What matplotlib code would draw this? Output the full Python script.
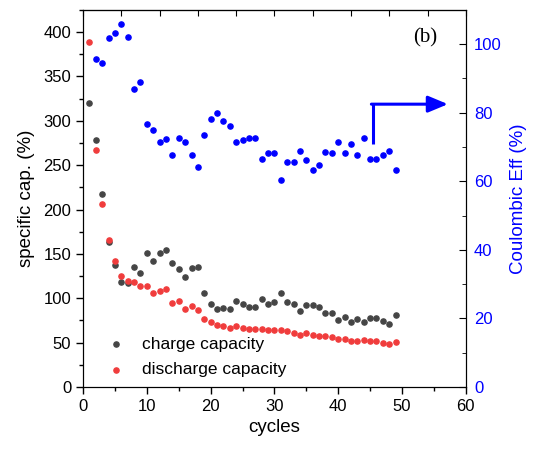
import numpy as np
import matplotlib.pyplot as plt
from matplotlib.ticker import MultipleLocator

plt.rcParams['font.family'] = ['Liberation Sans', 'DejaVu Sans']

# charge / discharge capacity, cycles 1..49
cycles = np.arange(1, 50)
charge = [320, 278, 217, 163, 137, 118, 117, 135, 128, 151,
          142, 151, 154, 140, 133, 124, 134, 135, 106, 94,
          88, 89, 88, 97, 94, 90, 90, 99, 94, 96,
          106, 96, 94, 86, 92, 93, 90, 83, 83, 76,
          79, 73, 77, 73, 78, 78, 74, 71, 81]
discharge = [389, 267, 206, 166, 142, 125, 119, 118, 114, 114,
             106, 108, 111, 95, 97, 88, 91, 87, 77, 73,
             70, 69, 67, 69, 67, 65, 65, 65, 64, 64,
             64, 63, 61, 59, 61, 59, 58, 57, 56, 54,
             54, 52, 52, 53, 52, 52, 50, 48, 51]

# coulombic efficiency, cycles 2..49
eff_cycles = np.arange(2, 50)
eff = [95.8, 94.6, 101.8, 103.3, 105.8, 102.1, 86.8, 89.1, 76.6, 74.9,
       71.6, 72.4, 67.8, 72.7, 71.5, 67.8, 64.3, 73.5, 78.3, 80.0,
       77.5, 76.2, 71.5, 72.0, 72.6, 72.6, 66.5, 68.2, 68.3, 60.3,
       65.7, 65.6, 68.9, 66.3, 63.4, 64.9, 68.6, 68.3, 71.4, 68.3,
       70.8, 67.7, 72.5, 66.5, 66.6, 67.8, 68.7, 63.2]

fig = plt.figure(figsize=(5.36, 4.49), dpi=100)
ax = fig.add_axes([0.155, 0.138, 0.714, 0.840])

ax.scatter(cycles, charge, s=14, color='#454545', label='charge capacity', zorder=3)
ax.scatter(cycles, discharge, s=14, color='#f03c3c', label='discharge capacity', zorder=3)

ax.set_xlim(0, 60)
ax.set_ylim(0, 425)
ax.xaxis.set_major_locator(MultipleLocator(10))
ax.xaxis.set_minor_locator(MultipleLocator(5))
ax.yaxis.set_major_locator(MultipleLocator(50))
ax.yaxis.set_minor_locator(MultipleLocator(25))
ax.tick_params(axis='both', which='major', direction='out', length=5, labelsize=12, width=1)
ax.tick_params(axis='both', which='minor', direction='out', length=3, width=1)
ax.set_xlabel('cycles', fontsize=13.5)
ax.set_ylabel('specific cap. (%)', fontsize=13.5, labelpad=6)

# top axis ticks (inward, no labels)
top = ax.secondary_xaxis('top')
top.set_xticks(np.arange(0, 61, 6))
top.tick_params(direction='in', length=4, labeltop=False)

ax2 = ax.twinx()
ax2.scatter(eff_cycles, eff, s=14, color='#0000ff', zorder=3)
ax2.set_ylim(0, 110)
ax2.yaxis.set_major_locator(MultipleLocator(20))
ax2.yaxis.set_minor_locator(MultipleLocator(10))
ax2.tick_params(axis='y', which='major', direction='in', length=5, labelsize=12,
                labelcolor='#0000ff', pad=6)
ax2.tick_params(axis='y', which='minor', direction='in', length=3)
ax2.set_ylabel('Coulombic Eff (%)', fontsize=13.5, color='#0000ff', labelpad=6)

# arrow pointing to the right axis
ax2.plot([45.5, 45.5], [71, 82.5], color='#0000ff', lw=2.2, solid_capstyle='butt')
ax2.annotate('', xy=(57.2, 82.5), xytext=(45.2, 82.5),
             arrowprops=dict(arrowstyle='-|>,head_length=1.2,head_width=0.5',
                             color='#0000ff', lw=2.2, shrinkA=0, shrinkB=0))

ax.text(0.925, 0.925, '(b)', transform=ax.transAxes, fontsize=15,
        family=['Liberation Serif', 'DejaVu Serif'], ha='right', va='center')

ax.legend(loc='lower left', bbox_to_anchor=(0.0, -0.015), frameon=False, fontsize=12.5,
          handletextpad=0.5, labelspacing=0.6, markerscale=1.0)

fig.savefig('out.png', dpi=100)
